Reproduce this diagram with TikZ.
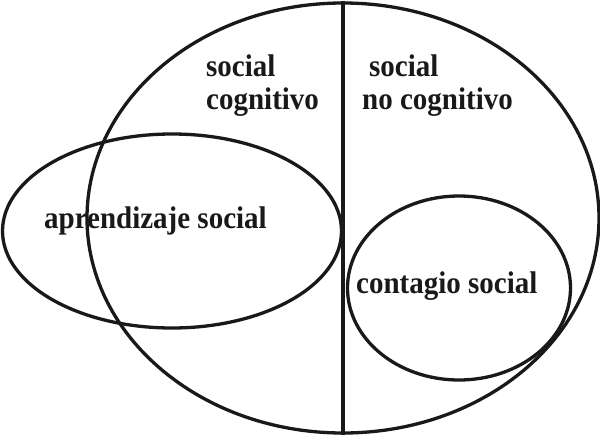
\documentclass[tikz,border=0pt]{standalone}
\usepackage{fontspec}
\setmainfont{Liberation Serif}
\usetikzlibrary{shapes.geometric}
\begin{document}
\begin{tikzpicture}[x=1pt,y=-1pt,
  ring/.style={draw=black!90,line width=3.3pt,ellipse,inner sep=0pt},
  lbl/.style={anchor=base west,inner sep=0pt,font=\fontsize{29}{33}\selectfont\bfseries,text=black!90}]
\useasboundingbox[fill=white] (0,0) rectangle (600,436);
\node[ring,minimum width=512pt,minimum height=430pt] (big) at (343,218) {};
\node[ring,minimum width=339pt,minimum height=194pt] (learn) at (172,231) {};
\node[ring,minimum width=223pt,minimum height=184pt] (cont) at (459,288) {};
\draw[draw=black!90,line width=3.3pt] (big.north) -- (big.south);
\node[lbl] (s1) at (206,77) {\scalebox{1}[1.08]{social}};
\node[lbl] (c1) at (206,110) {\scalebox{1}[1.08]{cognitivo}};
\node[lbl] (s2) at (369,77) {\scalebox{1}[1.08]{social}};
\node[lbl] (c2) at (362,110) {\scalebox{1}[1.08]{no cognitivo}};
\node[lbl] (ap) at (44,228) {\scalebox{1}[1.08]{aprendizaje social}};
\node[lbl] (cs) at (356,293) {\scalebox{1}[1.08]{contagio social}};
\end{tikzpicture}
\end{document}
